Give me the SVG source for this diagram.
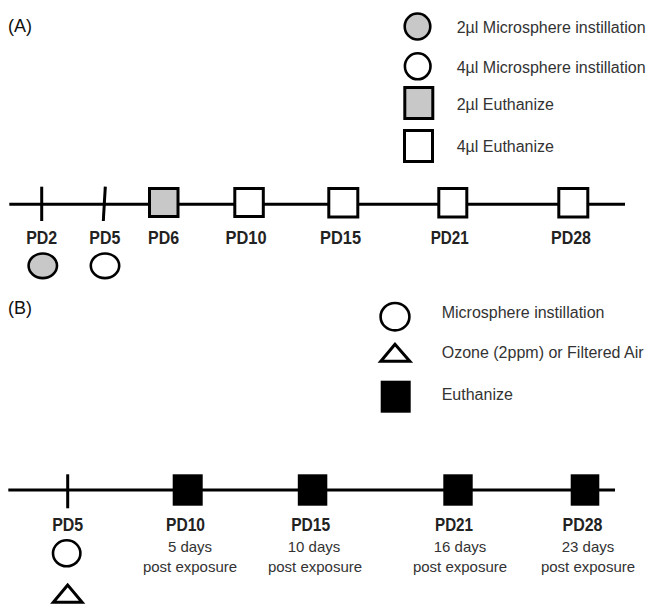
<svg xmlns="http://www.w3.org/2000/svg" width="646" height="605" viewBox="0 0 646 605">
<style>
.panel{font-family:"Liberation Sans",Arial,sans-serif;font-size:18px;fill:#111}
.leg{font-family:"Liberation Sans",Arial,sans-serif;font-size:16px;fill:#333}
.pd{font-family:"Liberation Sans",Arial,sans-serif;font-size:18.5px;font-weight:bold;fill:#222;text-anchor:middle}
.sub{font-family:"Liberation Sans",Arial,sans-serif;font-size:15px;fill:#333;text-anchor:middle}
.axis{stroke:#000;stroke-width:3;fill:none}
.sq{stroke:#000;stroke-width:3}
.circ{stroke:#000;stroke-width:2.6}
.gray{fill:#c8c8c8}
.white{fill:#fff}
.black{fill:#000}
</style>
<rect width="646" height="605" fill="#fff"/>
<text class="panel" x="8" y="32">(A)</text>
<text class="panel" x="8" y="314">(B)</text>
<g id="legendA">
<ellipse class="circ gray" cx="417.5" cy="26.5" rx="12.8" ry="13"/>
<text class="leg" x="456.7" y="32.7">2µl Microsphere instillation</text>
<ellipse class="circ white" cx="417.7" cy="66.3" rx="12.8" ry="13"/>
<text class="leg" x="456.7" y="72.7">4µl Microsphere instillation</text>
<rect class="sq gray" x="404.8" y="87.5" width="28" height="31"/>
<text class="leg" x="456.7" y="110">2µl Euthanize</text>
<rect class="sq white" x="404.5" y="130.5" width="28" height="31"/>
<text class="leg" x="456.7" y="151.7">4µl Euthanize</text>
</g>
<g id="connectors">
<line class="axis" x1="9.3" y1="204.3" x2="625" y2="204.3"/>
<line class="axis" x1="41.7" y1="186.7" x2="41.7" y2="221"/>
<line class="axis" x1="105.3" y1="186.7" x2="103.3" y2="221"/>
<line class="axis" x1="8.3" y1="490" x2="615" y2="490"/>
<line class="axis" x1="67.7" y1="474.3" x2="67.7" y2="508.3"/>
</g>
<g id="timelineA">
<g id="a-pd2"><text class="pd" x="41.7" y="244.3" textLength="31" lengthAdjust="spacingAndGlyphs">PD2</text><ellipse class="circ gray" cx="42.8" cy="265.8" rx="14.2" ry="12.3"/></g>
<g id="a-pd5"><text class="pd" x="104.8" y="244.3" textLength="31" lengthAdjust="spacingAndGlyphs">PD5</text><ellipse class="circ white" cx="105" cy="265.8" rx="14.2" ry="12.3"/></g>
<g id="a-pd6"><rect class="sq gray" x="149.5" y="188.5" width="28.5" height="28"/><text class="pd" x="163.6" y="244.3" textLength="31" lengthAdjust="spacingAndGlyphs">PD6</text></g>
<g id="a-pd10"><rect class="sq white" x="234.8" y="188.5" width="28.5" height="28"/><text class="pd" x="246" y="244.3" textLength="41" lengthAdjust="spacingAndGlyphs">PD10</text></g>
<g id="a-pd15"><rect class="sq white" x="328.8" y="188.5" width="29" height="28.5"/><text class="pd" x="340.5" y="244.3" textLength="41" lengthAdjust="spacingAndGlyphs">PD15</text></g>
<g id="a-pd21"><rect class="sq white" x="438.8" y="188.5" width="28" height="28.5"/><text class="pd" x="449.7" y="244.3" textLength="38" lengthAdjust="spacingAndGlyphs">PD21</text></g>
<g id="a-pd28"><rect class="sq white" x="558.8" y="188.5" width="29" height="28.5"/><text class="pd" x="571" y="244.3" textLength="40" lengthAdjust="spacingAndGlyphs">PD28</text></g>
</g>
<g id="legendB">
<ellipse class="circ white" cx="395" cy="316.7" rx="14.4" ry="13.7"/>
<text class="leg" x="441.7" y="317.5">Microsphere instillation</text>
<polygon class="sq white" points="395,344.3 380.8,361.2 409.8,361.2"/>
<text class="leg" x="441.7" y="357.7">Ozone (2ppm) or Filtered Air</text>
<rect class="black" x="380.7" y="380.7" width="30" height="32"/>
<text class="leg" x="441.7" y="400">Euthanize</text>
</g>
<g id="timelineB">
<g id="b-pd5"><text class="pd" x="67.7" y="531" textLength="31" lengthAdjust="spacingAndGlyphs">PD5</text><ellipse class="circ white" cx="66.7" cy="553.3" rx="13.7" ry="13"/><polygon class="sq white" points="67.7,585 53.3,602.3 82.1,602.3"/></g>
<g id="b-pd10"><rect class="black" x="172.7" y="474.3" width="30" height="31.4"/><text class="pd" x="185.5" y="531" textLength="39" lengthAdjust="spacingAndGlyphs">PD10</text><text class="sub" x="190" y="551.7">5 days</text><text class="sub" x="190" y="571.7">post exposure</text></g>
<g id="b-pd15"><rect class="black" x="297.8" y="474.3" width="29.5" height="31.4"/><text class="pd" x="310.7" y="531" textLength="39" lengthAdjust="spacingAndGlyphs">PD15</text><text class="sub" x="314" y="551.7">10 days</text><text class="sub" x="315" y="571.7">post exposure</text></g>
<g id="b-pd21"><rect class="black" x="443.3" y="474.3" width="29.4" height="31.4"/><text class="pd" x="454" y="531" textLength="38" lengthAdjust="spacingAndGlyphs">PD21</text><text class="sub" x="460" y="551.7">16 days</text><text class="sub" x="460" y="571.7">post exposure</text></g>
<g id="b-pd28"><rect class="black" x="570.7" y="474.3" width="28.6" height="31.4"/><text class="pd" x="582.5" y="531" textLength="40" lengthAdjust="spacingAndGlyphs">PD28</text><text class="sub" x="588" y="551.7">23 days</text><text class="sub" x="588" y="571.7">post exposure</text></g>
</g>
</svg>
